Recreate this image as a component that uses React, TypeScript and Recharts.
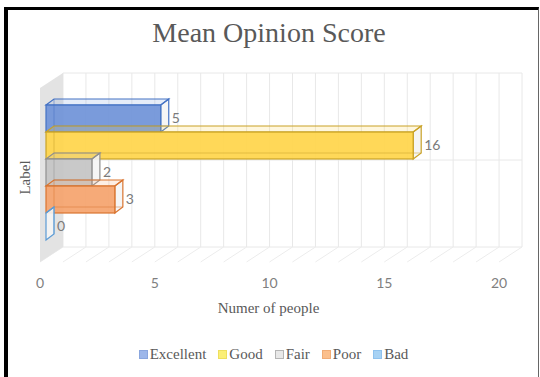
import { BarChart, Bar, XAxis, YAxis, ReferenceArea, LabelList, Legend } from 'recharts'

const CATEGORIES = ['Label']
const SERIES = ['Excellent', 'Good', 'Fair', 'Poor', 'Bad']
const COUNTS = [5, 16, 2, 3, 0]
const X_TICKS = [0, 5, 10, 15, 20]
const GRID_TICKS = [0, 1, 2, 3, 4, 5, 6, 7, 8, 9, 10, 11, 12, 13, 14, 15, 16, 17, 18, 19, 20]
const WALL_ROWS = [0, 1, 2]
const X_MAX = 20

const FILLS = ['#6f93d8', '#ffd54a', '#c4c4c4', '#f5a36c', '#9cc3e6']
const STROKES = ['#4472c4', '#c9a227', '#8f8f8f', '#d9742f', '#5b9bd5']
const LEGEND_COLORS = ['#9db7ea', '#fbef76', '#e8e8e8', '#fbbf8c', '#a7d2f4']
const LEGEND_BORDERS = ['#8aa6de', '#eedf5e', '#b5b5b5', '#f0ac76', '#8fc2ee']

const SERIF = '"Liberation Serif", "Times New Roman", serif'
const SANS = 'Lato, "Liberation Sans", sans-serif'

// fake 3d: bar depth, and how far the back wall / floor sit from the bars
const DX = 8
const DY = 6
const BACK_DX = 17
const WALL_DX = 23
const WALL_DY = 15
const WALL_TOP_GAP = 32
const WALL_BOTTOM_GAP = 8.5
const TICK_SHIFT = -6
const TICK_PAD_RIGHT = 15

const rows = CATEGORIES.map((label) => {
  const row: Record<string, string | number> = { label }
  SERIES.forEach((s, i) => {
    row[s] = COUNTS[i]
  })
  return row
})

const makeBox = (i: number) => (props: any) => {
  const { x, y, height } = props
  const w = Math.max(props.width || 0, 0)
  const fill = FILLS[i]
  const stroke = STROKES[i]
  const x2 = x + w
  const top = `${x},${y} ${x + DX},${y - DY} ${x2 + DX},${y - DY} ${x2},${y}`
  const side = `${x2},${y} ${x2 + DX},${y - DY} ${x2 + DX},${y + height - DY} ${x2},${y + height}`
  const back = `${x + DX},${y - DY} ${x + DX},${y + height - DY} ${x2 + DX},${y + height - DY}`
  return (
    <g>
      <polygon points={side} fill="#f4f4f4" fillOpacity={0.9} stroke={stroke} strokeWidth={1.2} />
      <polygon points={top} fill={fill} fillOpacity={0.18} stroke={stroke} strokeWidth={1.2} />
      {w > 0 && (
        <rect x={x} y={y} width={w} height={height} fill={fill} fillOpacity={0.92} stroke={stroke} strokeWidth={1.2} />
      )}
      <polyline points={back} fill="none" stroke={stroke} strokeOpacity={0.5} strokeWidth={1} />
    </g>
  )
}

// back wall, side wall and floor, laid out around the category band
const Walls = (props: any) => {
  const { x, y, width, height } = props
  const left = x + BACK_DX
  const right = left + width
  const top = y - WALL_TOP_GAP
  const bottom = y + height + WALL_BOTTOM_GAP
  const side = `${left},${top} ${left},${bottom} ${left - WALL_DX},${bottom + WALL_DY} ${left - WALL_DX},${top + WALL_DY}`
  const col = (t: number) => left + (width * t) / X_MAX
  return (
    <g>
      {GRID_TICKS.map((t) => (
        <line key={`v${t}`} x1={col(t)} y1={top} x2={col(t)} y2={bottom} stroke="#e8e8e8" />
      ))}
      {WALL_ROWS.map((r) => {
        const ry = top + ((bottom - top) * r) / (WALL_ROWS.length - 1)
        return <line key={`h${r}`} x1={left} y1={ry} x2={right} y2={ry} stroke="#e8e8e8" />
      })}
      {GRID_TICKS.map((t) => (
        <line key={`f${t}`} x1={col(t)} y1={bottom} x2={col(t) - WALL_DX} y2={bottom + WALL_DY} stroke="#ececec" />
      ))}
      <polygon points={side} fill="#e3e3e3" />
    </g>
  )
}

const renderLegend = () => (
  <div
    style={{
      display: 'flex',
      justifyContent: 'center',
      alignItems: 'center',
      fontFamily: SERIF,
      fontSize: 15,
      lineHeight: '18px',
      color: '#595959',
    }}
  >
    {SERIES.map((s, i) => (
      <div key={s} style={{ display: 'flex', alignItems: 'center', marginRight: i < SERIES.length - 1 ? 12 : 0 }}>
        <span
          style={{
            width: 7,
            height: 7,
            background: LEGEND_COLORS[i],
            border: `1px solid ${LEGEND_BORDERS[i]}`,
            marginRight: 2,
          }}
        />
        <span>{s}</span>
      </div>
    ))}
  </div>
)

export default function App() {
  return (
    <div style={{ position: 'absolute', left: 0, top: 0, width: 540, height: 377, background: '#fff', overflow: 'hidden' }}>
      <div
        style={{
          position: 'absolute',
          left: 4,
          top: 7,
          width: 535,
          height: 390,
          boxSizing: 'border-box',
          borderTop: '3px solid #000',
          borderLeft: '4px solid #000',
          borderRight: '1px solid #666',
        }}
      />
      <div style={{ position: 'absolute', left: 0, top: 0 }}>
        <BarChart
          width={540}
          height={377}
          layout="vertical"
          data={rows}
          margin={{ top: 73, right: 20, bottom: 70, left: 8 }}
          barCategoryGap={0}
          barGap={0}
        >
          <XAxis
            xAxisId="bar"
            type="number"
            domain={[0, X_MAX]}
            ticks={X_TICKS}
            padding={{ left: 6, right: TICK_PAD_RIGHT }}
            height={60}
            axisLine={false}
            tickLine={false}
            tickSize={0}
            tickMargin={31}
            tick={{ fill: '#7f7f7f', fontSize: 14, fontFamily: SANS, dx: TICK_SHIFT }}
            label={{
              content: (p: any) => {
                const vb = p.viewBox
                return (
                  <text
                    x={vb.x + (vb.width - 23) / 2}
                    y={vb.y + 65.5}
                    textAnchor="middle"
                    fill="#595959"
                    fontSize={15}
                    fontFamily={SERIF}
                  >
                    Numer of people
                  </text>
                )
              },
            }}
          />
          <YAxis
            yAxisId="cat"
            type="category"
            dataKey="label"
            width={32}
            tick={false}
            axisLine={false}
            tickLine={false}
            padding={{ top: WALL_TOP_GAP, bottom: WALL_BOTTOM_GAP }}
            label={{
              content: (p: any) => {
                const vb = p.viewBox
                const cx = vb.x + 16.5
                const cy = vb.y + vb.height / 2 + 17.5
                return (
                  <text
                    x={cx}
                    y={cy}
                    transform={`rotate(-90 ${cx} ${cy})`}
                    textAnchor="middle"
                    dominantBaseline="central"
                    fill="#595959"
                    fontSize={15}
                    fontFamily={SERIF}
                  >
                    Label
                  </text>
                )
              },
            }}
          />
          <ReferenceArea
            xAxisId="bar"
            yAxisId="cat"
            x1={0}
            x2={X_MAX}
            y1={CATEGORIES[0]}
            y2={CATEGORIES[0]}
            ifOverflow="visible"
            shape={Walls}
          />
          {SERIES.map((s, i) => (
            <Bar
              key={s}
              dataKey={s}
              name={s}
              xAxisId="bar"
              yAxisId="cat"
              fill={FILLS[i]}
              shape={makeBox(i)}
              isAnimationActive={false}
            >
              <LabelList dataKey={s} position="right" offset={11} fill="#7a7a7a" fontSize={14} fontFamily={SANS} />
            </Bar>
          ))}
          <Legend
            layout="horizontal"
            verticalAlign="middle"
            align="center"
            wrapperStyle={{ top: 345, left: 0, width: 547 }}
            content={renderLegend}
          />
        </BarChart>
      </div>
      <div
        style={{
          position: 'absolute',
          left: 0,
          top: 19,
          width: 538,
          textAlign: 'center',
          fontFamily: SERIF,
          fontSize: 28,
          lineHeight: '28px',
          color: '#595959',
        }}
      >
        Mean Opinion Score
      </div>
    </div>
  )
}
